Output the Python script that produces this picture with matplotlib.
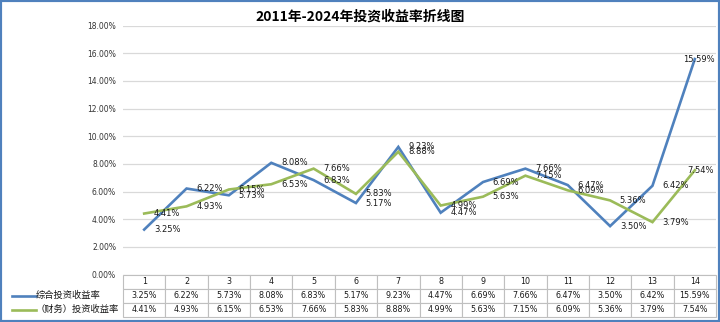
import matplotlib
matplotlib.use('Agg')
import matplotlib.pyplot as plt
from matplotlib.patches import Rectangle
from matplotlib.ticker import PercentFormatter, MultipleLocator

plt.rcParams['font.family'] = ['DejaVu Sans', 'Noto Sans CJK SC']

# 数据
categories = ['1', '2', '3', '4', '5', '6', '7', '8', '9', '10', '11', '12', '13', '14']
series_names = ['综合投资收益率', '（财务）投资收益率']
zonghe = [3.25, 6.22, 5.73, 8.08, 6.83, 5.17, 9.23, 4.47, 6.69, 7.66, 6.47, 3.50, 6.42, 15.59]
caiwu = [4.41, 4.93, 6.15, 6.53, 7.66, 5.83, 8.88, 4.99, 5.63, 7.15, 6.09, 5.36, 3.79, 7.54]
colors = ['#4f81bd', '#9bbb59']
title = '2011年-2024年投资收益率折线图'

fig = plt.figure(figsize=(7.2, 3.22), dpi=100)
ax = fig.add_axes([123 / 720, 1 - 274.5 / 322, 593 / 720, 248.8 / 322])

x = list(range(1, len(categories) + 1))
for vals, c in zip([zonghe, caiwu], colors):
    y = [v / 100 for v in vals]
    ax.plot(x, y, color=c, lw=1.9, solid_joinstyle='miter', zorder=3)
    # 数据标签放在点的右侧，最后一个点向左收
    for i, (xi, yi, v) in enumerate(zip(x, y, vals)):
        if i == len(x) - 1:
            ax.annotate(f'{v:.2f}%', (xi, yi), xytext=(14, 0), textcoords='offset points',
                        ha='right', va='center', fontsize=6, color='#1a1a1a', zorder=4)
        else:
            ax.annotate(f'{v:.2f}%', (xi, yi), xytext=(7, 0), textcoords='offset points',
                        ha='left', va='center', fontsize=6, color='#1a1a1a', zorder=4)

ax.set_xlim(0.5, len(categories) + 0.5)
ax.set_ylim(0, 0.18)
ax.yaxis.set_major_locator(MultipleLocator(0.02))
ax.yaxis.set_major_formatter(PercentFormatter(xmax=1, decimals=2))
ax.set_xticks([])
ax.tick_params(axis='y', length=0, pad=5, labelsize=5.5, labelcolor='#333333')
ax.grid(axis='y', color='#d9d9d9', lw=0.9)
ax.set_axisbelow(True)
for s in ax.spines.values():
    s.set_visible(False)

fig.text(0.5, 1 - 17 / 322, title, ha='center', va='center', fontsize=10,
         fontweight='bold', family=['Noto Sans CJK SC'])

# 底部数据表
h = 42 / 248.8
cell_text = [[f'{v:.2f}%' for v in zonghe], [f'{v:.2f}%' for v in caiwu]]
tbl = ax.table(cellText=cell_text, colLabels=categories, cellLoc='center',
               bbox=[0, -h, 1, h])
tbl.auto_set_font_size(False)
tbl.set_fontsize(5.8)
for (r, c), cell in tbl.get_celld().items():
    cell.set_edgecolor('#bfbfbf')
    cell.set_linewidth(0.8)
    cell.get_text().set_color('#1a1a1a')

# 表格左侧的图例行
row_h = h / 3
for k, (name, c) in enumerate(zip(series_names, colors)):
    yc = -row_h * (k + 1.5)
    ax.plot([-111 / 593, -87 / 593], [yc, yc], color=c, lw=1.9,
            transform=ax.transAxes, clip_on=False)
    ax.text(-87 / 593, yc, name, transform=ax.transAxes, ha='left', va='center',
            fontsize=6.7, family=['Noto Sans CJK SC'], color='#1a1a1a')

fig.patches.append(Rectangle((0, 0), 1, 1, transform=fig.transFigure, fill=False,
                             edgecolor='#4f81bd', lw=3))

fig.savefig('out.png', dpi=100)
